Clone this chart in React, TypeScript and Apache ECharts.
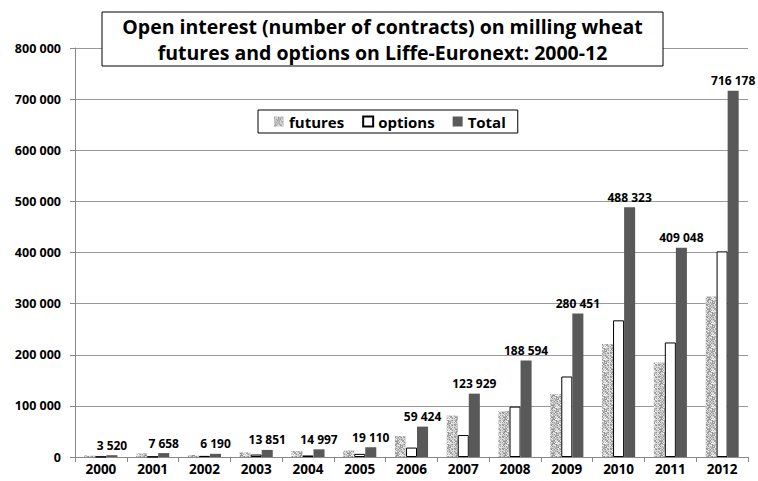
import React, { useEffect, useRef } from "react";
import * as echarts from "echarts";

const years = ["2000", "2001", "2002", "2003", "2004", "2005", "2006", "2007", "2008", "2009", "2010", "2011", "2012"];
const futures = [3000, 7000, 4000, 9000, 12000, 13000, 41000, 81000, 90000, 123000, 221000, 185000, 314000];
const options = [520, 658, 2190, 4851, 2997, 6110, 18424, 42929, 98594, 157451, 267323, 224048, 402178];
const total = [3520, 7658, 6190, 13851, 14997, 19110, 59424, 123929, 188594, 280451, 488323, 409048, 716178];
const yTicks = [0, 100000, 200000, 300000, 400000, 500000, 600000, 700000, 800000];

const FONT = "'Open Sans', sans-serif";

function fmt(v: number): string {
  return String(Math.round(v)).replace(/\B(?=(\d{3})+(?!\d))/g, " ");
}

function makePattern(): string {
  const c = document.createElement("canvas");
  c.width = 12;
  c.height = 12;
  const ctx = c.getContext("2d")!;
  for (let i = 0; i < 12; i++) {
    for (let j = 0; j < 12; j++) {
      const h = (i * 73 + j * 151 + i * j * 37) % 97;
      const g = 140 + Math.floor((h / 97) * 110);
      ctx.fillStyle = `rgb(${g},${g},${g})`;
      ctx.fillRect(i, j, 1, 1);
    }
  }
  return c.toDataURL();
}

export default function App() {
  const ref = useRef<HTMLDivElement>(null);
  useEffect(() => {
    const chart = echarts.init(ref.current!, null, { renderer: "svg" });
    const pattern = makePattern();
    chart.setOption({
      animation: false,
      backgroundColor: "#ffffff",
      textStyle: { fontFamily: FONT },
      grid: { left: 75, right: 10, top: 48, bottom: 24, containLabel: false },
      legend: {
        data: ["futures", "options", "Total"],
        left: 258,
        top: 110,
        padding: [4, 12, 4, 16],
        itemGap: 18,
        itemWidth: 10,
        itemHeight: 10,
        icon: "rect",
        borderColor: "#000",
        borderWidth: 1,
        backgroundColor: "#fff",
        textStyle: { fontFamily: FONT, fontWeight: "bold", fontSize: 15, color: "#000" },
      },
      xAxis: {
        type: "category",
        data: years,
        axisLine: { lineStyle: { color: "#888" } },
        axisTick: { show: true, length: 5, lineStyle: { color: "#888" } },
        axisLabel: { fontFamily: FONT, fontWeight: "bold", fontSize: 13.5, lineHeight: 14, color: "#000", margin: 5 },
      },
      yAxis: {
        type: "value",
        min: 0,
        max: 800000,
        interval: 100000,
        axisLine: { show: true, lineStyle: { color: "#888" } },
        axisTick: { show: true, length: 5, lineStyle: { color: "#888" } },
        splitLine: { lineStyle: { color: "#999" } },
        axisLabel: {
          fontFamily: FONT,
          fontWeight: "bold",
          fontSize: 12.5,
          color: "#000",
          margin: 14,
          formatter: (v: number) => (yTicks.includes(v) ? fmt(v) : ""),
        },
      },
      series: [
        {
          name: "futures",
          type: "bar",
          data: futures,
          barGap: "0%",
          barCategoryGap: "36%",
          itemStyle: { color: { image: pattern, repeat: "repeat" } as any },
        },
        {
          name: "options",
          type: "bar",
          data: options,
          barGap: "0%",
          barCategoryGap: "36%",
          itemStyle: { color: "#ffffff", borderColor: "#000", borderWidth: 1 },
        },
        {
          name: "Total",
          type: "bar",
          data: total,
          barGap: "0%",
          barCategoryGap: "36%",
          itemStyle: { color: "#595959" },
          label: {
            show: true,
            position: "top",
            distance: 4,
            fontFamily: FONT,
            fontWeight: "bold",
            fontSize: 12,
            color: "#000",
            formatter: (p: any) => fmt(p.value),
          },
        },
      ],
      graphic: [
        {
          type: "rect",
          z: 100,
          shape: { x: 102, y: 12, width: 561, height: 54 },
          style: { fill: "#fff", stroke: "#000", lineWidth: 1 },
        },
        {
          type: "text",
          z: 101,
          x: 382.5,
          y: 39.5,
          style: {
            text: "Open interest (number of contracts) on milling wheat\nfutures and options on Liffe-Euronext: 2000-12",
            fontFamily: FONT,
            fontWeight: "bold",
            fontSize: 19.5,
            lineHeight: 26,
            fill: "#000",
            align: "center",
            verticalAlign: "middle",
          },
        },
      ],
    });
    return () => chart.dispose();
  }, []);
  return <div ref={ref} style={{ width: 758, height: 481, position: "absolute", left: 0, top: 0 }} />;
}
